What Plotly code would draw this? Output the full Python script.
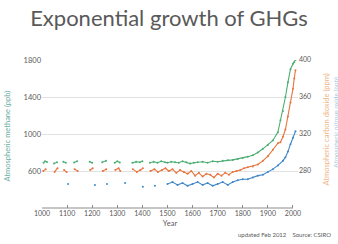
import plotly.graph_objects as go

# ---------------- data ----------------
ch4_years = [1006, 1012, 1020, None, 1048, 1060, None, 1085, 1095, None, 1128, 1140, None,
             1190, 1200, None, 1240, 1255, None, 1290, 1300, 1310, None, 1360, 1375, 1390, 1400, None,
             1430, 1445, 1460, 1475, 1490, 1500, 1515, 1530, 1545, 1560, 1575, 1590, 1605, 1620,
             1640, 1660, 1680, 1700, 1720, 1740, 1760, 1780, 1800, 1820, 1840, 1860, 1880, 1900,
             1920, 1940, 1950, 1960, 1970, 1980, 1990, 2000, 2005, 2010]
ch4_ppb = [690, 705, 698, None, 680, 695, None, 700, 688, None, 692, 705, None,
           700, 688, None, 695, 710, None, 690, 705, 692, None, 688, 700, 695, 705, None,
           690, 700, 690, 705, 695, 690, 700, 695, 690, 705, 695, 680, 690, 695,
           700, 690, 705, 700, 710, 715, 720, 730, 740, 755, 770, 800, 840, 880,
           930, 1020, 1150, 1250, 1400, 1560, 1700, 1760, 1775, 1800]

co2_years = [1005, 1015, None, 1050, 1062, None, 1088, 1098, None, 1130, 1142, None,
             1192, 1202, None, 1242, 1256, None, 1292, 1305, 1312, None, 1362, 1378, 1392, 1402, None,
             1432, 1448, 1462, 1478, 1492, 1505, 1520, 1535, 1550, 1565, 1580, 1595, 1610, 1625,
             1640, 1655, 1670, 1685, 1700, 1715, 1730, 1745, 1760, 1775, 1790, 1805, 1820, 1840,
             1860, 1880, 1900, 1920, 1940, 1950, 1960, 1970, 1980, 1990, 2000, 2005, 2010]
co2_ppm = [280, 282, None, 279, 283, None, 281, 279, None, 282, 280, None,
           281, 283, None, 280, 282, None, 281, 283, 280, None, 282, 279, 281, 283, None,
           280, 282, 279, 281, 283, 280, 282, 278, 281, 279, 277, 280, 275, 278,
           274, 277, 276, 273, 277, 275, 278, 276, 279, 280, 281, 283, 284, 285,
           287, 291, 296, 303, 310, 311, 317, 325, 339, 354, 369, 380, 389]

n2o_years = [1104, None, 1211, None, 1259, None, 1331, None, 1402, None, 1450, None,
             1500, 1520, 1540, 1560, 1580, 1600, 1620, 1640, 1660, 1680, 1700, 1720, 1740,
             1760, 1780, 1800, 1820, 1840, 1860, 1880, 1900, 1920, 1940, 1960, 1970, 1980,
             1990, 2000, 2010]
n2o_ppb = [266, None, 265, None, 266, None, 267, None, 263, None, 264, None,
           266, 268, 265, 267, 264, 266, 268, 265, 267, 264, 266, 268, 265,
           268, 270, 271, 271, 273, 275, 276, 279, 282, 286, 291, 295, 301,
           309, 316, 323]

x_ticks = [1000, 1100, 1200, 1300, 1400, 1500, 1600, 1700, 1800, 1900, 2000]
left_ticks = [600, 1000, 1400, 1800]
right_ticks = [280, 320, 360, 400]

title_text = "Exponential growth of GHGs"
left_title = "Atmospheric methane (ppb)"
right_title_co2 = "Atmospheric carbon dioxide (ppm)"
right_title_n2o = "Atmospheric nitrous oxide (ppb)"
x_title = "Year"
source_note = "updated Feb 2012    Source: CSIRO"

# ---------------- figure ----------------
GREEN = "#4aae72"
ORANGE = "#e8743b"
BLUE = "#3f86c8"
GREY = "#595959"

fig = go.Figure()
fig.add_trace(go.Scatter(x=ch4_years, y=ch4_ppb, mode="lines+markers",
                         line=dict(color=GREEN, width=1.1), marker=dict(size=2, color=GREEN),
                         connectgaps=False, yaxis="y", showlegend=False))
fig.add_trace(go.Scatter(x=co2_years, y=co2_ppm, mode="lines+markers",
                         line=dict(color=ORANGE, width=1.1), marker=dict(size=2, color=ORANGE),
                         connectgaps=False, yaxis="y2", showlegend=False))
fig.add_trace(go.Scatter(x=n2o_years, y=n2o_ppb, mode="lines+markers",
                         line=dict(color=BLUE, width=1.1), marker=dict(size=2, color=BLUE),
                         connectgaps=False, yaxis="y2", showlegend=False))

fig.update_layout(
    width=338, height=244,
    margin=dict(l=42, r=40, t=60, b=36),
    paper_bgcolor="white", plot_bgcolor="white",
    font=dict(family="Lato, Open Sans, sans-serif", color=GREY),
    title=dict(text=title_text, x=0.5, xanchor="center", y=1 - 18 / 244, yanchor="middle",
               yref="container", font=dict(size=22, color=GREY, family="Lato, sans-serif")),
    xaxis=dict(range=[1000, 2020], tickvals=x_ticks, ticktext=[str(t) for t in x_ticks],
               showgrid=False, zeroline=False, showline=False,
               ticks="inside", ticklen=3, tickcolor="#8c8c8c",
               tickfont=dict(size=7, color=GREY), color=GREY,
               title=dict(text=x_title, font=dict(size=7.5, color=GREY), standoff=4)),
    yaxis=dict(range=[200, 1800], tickvals=left_ticks, showgrid=True, gridcolor="#e2e2e2",
               gridwidth=1, zeroline=False, showline=False, ticks="", color=GREY,
               tickfont=dict(size=7.5, color=GREY)),
    yaxis2=dict(range=[240, 400], tickvals=right_ticks, overlaying="y", side="right",
                showgrid=False, zeroline=False, showline=False, ticks="", color=GREY,
                tickfont=dict(size=7, color=GREY)),
)

# x-axis line between first and last tick
fig.add_shape(type="line", xref="x", yref="paper", x0=x_ticks[0], x1=x_ticks[-1], y0=0, y1=0,
              line=dict(color="#8c8c8c", width=1))

fig.add_annotation(text=left_title, xref="paper", yref="paper", x=-0.133, y=0.49,
                   textangle=-90, showarrow=False, xanchor="center", yanchor="middle",
                   font=dict(size=7.5, color="#6aaea0"))
fig.add_annotation(text=right_title_co2, xref="paper", yref="paper", x=1.113, y=0.53,
                   textangle=-90, showarrow=False, xanchor="center", yanchor="middle",
                   font=dict(size=7.5, color="#f0b486"))
fig.add_annotation(text=right_title_n2o, xref="paper", yref="paper", x=1.147, y=0.58,
                   textangle=-90, showarrow=False, xanchor="center", yanchor="middle",
                   font=dict(size=6.5, color="#9cc9dd"))
fig.add_annotation(text=source_note, xref="paper", yref="paper", x=(333 - 42) / 256,
                   y=-(234 - 208) / 148, xanchor="right", yanchor="middle", showarrow=False,
                   font=dict(size=6, color=GREY))

fig.write_html("out.html", config={"displayModeBar": False},
               post_script="document.body.style.margin='0';document.body.style.overflow='hidden';")
